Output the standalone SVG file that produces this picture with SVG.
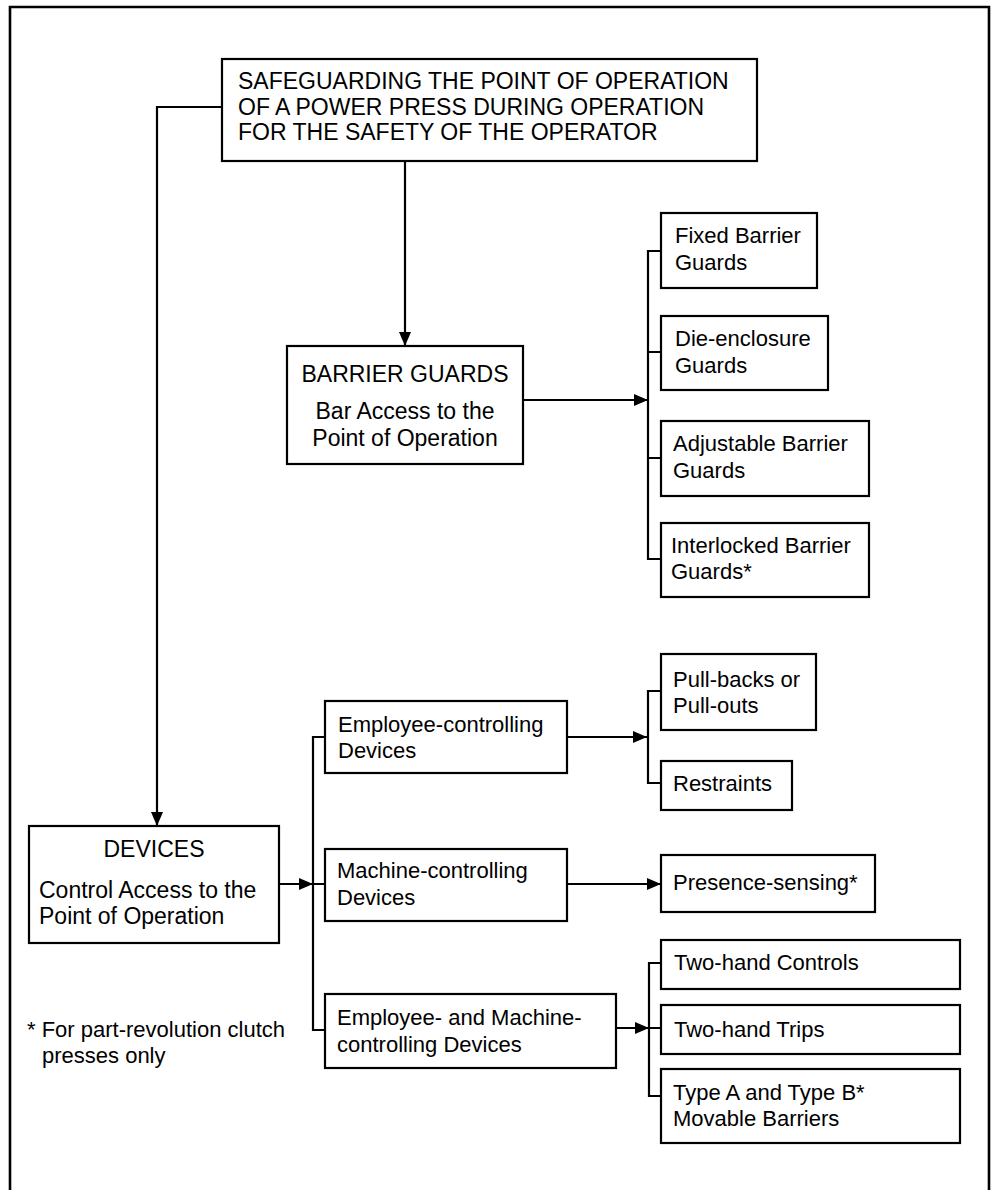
<svg xmlns="http://www.w3.org/2000/svg" width="992" height="1190" viewBox="0 0 992 1190">
<style>
  .box { fill: #fff; stroke: #000; stroke-width: 2.2; }
  .ln { fill: none; stroke: #000; stroke-width: 2.2; }
  text { font-family: "Liberation Sans", Arial, sans-serif; fill: #000; }
  .t { font-size: 22px; }
  .h { font-size: 23px; }
  .c { text-anchor: middle; }
</style>
<defs>
  <marker id="ah" viewBox="0 0 14 12" refX="14" refY="6" markerWidth="14" markerHeight="12" orient="auto" markerUnits="userSpaceOnUse">
    <path d="M0,0 L14,6 L0,12 z" fill="#000"/>
  </marker>
</defs>
<rect width="992" height="1190" fill="#fff"/>
<path d="M10,1195 V7 H989 V1195" fill="none" stroke="#000" stroke-width="2.6"/>

<g id="connectors">
  <path class="ln" d="M222,107 H157 V826" marker-end="url(#ah)"/>
  <path class="ln" d="M405,161 V346" marker-end="url(#ah)"/>
  <path class="ln" d="M523,400 H648" marker-end="url(#ah)"/>
  <path class="ln" d="M661,251 H648 V559 H661 M648,352 H661 M648,458 H661"/>
  <path class="ln" d="M279,884 H313" marker-end="url(#ah)"/>
  <path class="ln" d="M325,737 H313 V1030 H325 M313,884 H325"/>
  <path class="ln" d="M567,737 H647" marker-end="url(#ah)"/>
  <path class="ln" d="M661,691 H648 V783 H661"/>
  <path class="ln" d="M567,884 H661" marker-end="url(#ah)"/>
  <path class="ln" d="M616,1028 H649" marker-end="url(#ah)"/>
  <path class="ln" d="M661,963 H649 V1096 H661 M649,1028 H661"/>
</g>

<g id="root">
  <rect class="box" x="222" y="59" width="535" height="102"/>
  <text class="h" x="238" y="89">SAFEGUARDING THE POINT OF OPERATION</text>
  <text class="h" x="238" y="114.5">OF A POWER PRESS DURING OPERATION</text>
  <text class="h" x="238" y="140">FOR THE SAFETY OF THE OPERATOR</text>
</g>

<g id="barrier-guards">
  <rect class="box" x="287" y="346" width="236" height="118"/>
  <text class="h c" x="405" y="382">BARRIER GUARDS</text>
  <text class="h c" x="405" y="419">Bar Access to the</text>
  <text class="h c" x="405" y="446">Point of Operation</text>
</g>

<g id="fixed-barrier">
  <rect class="box" x="661" y="213" width="156" height="75"/>
  <text class="t" x="675" y="243">Fixed Barrier</text>
  <text class="t" x="675" y="270">Guards</text>
</g>
<g id="die-enclosure">
  <rect class="box" x="661" y="316" width="167" height="74"/>
  <text class="t" x="675" y="346">Die-enclosure</text>
  <text class="t" x="675" y="373">Guards</text>
</g>
<g id="adjustable-barrier">
  <rect class="box" x="661" y="421" width="208" height="75"/>
  <text class="t" x="673" y="451">Adjustable Barrier</text>
  <text class="t" x="673" y="478">Guards</text>
</g>
<g id="interlocked-barrier">
  <rect class="box" x="661" y="523" width="208" height="74"/>
  <text class="t" x="671" y="553">Interlocked Barrier</text>
  <text class="t" x="671" y="579">Guards*</text>
</g>

<g id="devices">
  <rect class="box" x="29" y="826" width="250" height="117"/>
  <text class="h c" x="154" y="857">DEVICES</text>
  <text class="h" x="39" y="898">Control Access to the</text>
  <text class="h" x="39" y="924">Point of Operation</text>
</g>

<g id="employee-controlling">
  <rect class="box" x="325" y="701" width="242" height="72"/>
  <text class="t" x="338" y="732">Employee-controlling</text>
  <text class="t" x="338" y="758">Devices</text>
</g>
<g id="machine-controlling">
  <rect class="box" x="325" y="849" width="242" height="72"/>
  <text class="t" x="337" y="878">Machine-controlling</text>
  <text class="t" x="337" y="905">Devices</text>
</g>
<g id="employee-machine-controlling">
  <rect class="box" x="325" y="994" width="291" height="74"/>
  <text class="t" x="337" y="1025">Employee- and Machine-</text>
  <text class="t" x="337" y="1052">controlling Devices</text>
</g>

<g id="pull-backs">
  <rect class="box" x="661" y="654" width="155" height="76"/>
  <text class="t" x="673" y="687">Pull-backs or</text>
  <text class="t" x="673" y="713">Pull-outs</text>
</g>
<g id="restraints">
  <rect class="box" x="661" y="761" width="131" height="49"/>
  <text class="t" x="673" y="791">Restraints</text>
</g>
<g id="presence-sensing">
  <rect class="box" x="661" y="855" width="214" height="57"/>
  <text class="t" x="673" y="890">Presence-sensing*</text>
</g>
<g id="two-hand-controls">
  <rect class="box" x="661" y="940" width="299" height="49"/>
  <text class="t" x="674" y="970">Two-hand Controls</text>
</g>
<g id="two-hand-trips">
  <rect class="box" x="661" y="1005" width="299" height="49"/>
  <text class="t" x="674" y="1037">Two-hand Trips</text>
</g>
<g id="movable-barriers">
  <rect class="box" x="661" y="1069" width="299" height="74"/>
  <text class="t" x="673" y="1100">Type A and Type B*</text>
  <text class="t" x="673" y="1126">Movable Barriers</text>
</g>

<g id="footnote">
  <text class="t" x="27" y="1037">* For part-revolution clutch</text>
  <text class="t" x="42" y="1063">presses only</text>
</g>
</svg>
